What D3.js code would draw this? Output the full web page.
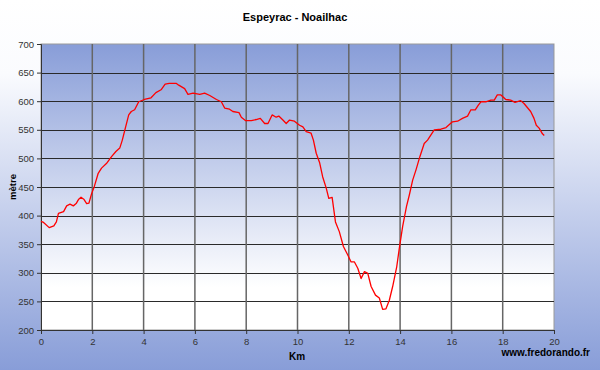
<!DOCTYPE html>
<html>
<head>
<meta charset="utf-8">
<script src="https://cdn.jsdelivr.net/npm/d3@7"></script>
<style>
  body { margin: 0; }
  svg { display: block; font-family: "Liberation Sans", Arial, sans-serif; }
</style>
</head>
<body>
<svg id="chart" width="600" height="370"></svg>
<script>
// distance (km) and altitude (m)
var km = [0, 0.1, 0.32, 0.5, 0.6, 0.68, 0.88, 1.0, 1.13, 1.26, 1.37, 1.46, 1.56, 1.68, 1.78, 1.87, 1.97,
  2.08, 2.23, 2.36, 2.55, 2.75, 2.92, 3.07, 3.17, 3.3, 3.42, 3.52, 3.65, 3.81, 4.03, 4.29, 4.48, 4.68,
  4.84, 5.0, 5.28, 5.37, 5.6, 5.73, 5.93, 6.19, 6.38, 6.58, 6.84, 7.03, 7.16, 7.35, 7.48, 7.72, 7.81,
  7.98, 8.2, 8.39, 8.55, 8.72, 8.85, 9.01, 9.17, 9.27, 9.43, 9.56, 9.69, 9.88, 10.08, 10.21, 10.34,
  10.53, 10.62, 10.73, 10.86, 10.98, 11.12, 11.22, 11.35, 11.48, 11.63, 11.79, 11.96, 12.09, 12.22,
  12.35, 12.48, 12.61, 12.74, 12.87, 13.04, 13.19, 13.32, 13.45, 13.58, 13.71, 13.87, 13.97, 14.1,
  14.25, 14.36, 14.49, 14.62, 14.77, 14.94, 15.07, 15.33, 15.59, 15.79, 16.04, 16.24, 16.43, 16.63,
  16.76, 16.93, 17.05, 17.15, 17.34, 17.54, 17.67, 17.79, 17.93, 18.12, 18.31, 18.48, 18.7, 18.83,
  18.96, 19.09, 19.22, 19.31, 19.42, 19.55, 19.62];
var alt = [390, 388, 379, 382, 389, 404, 407, 417, 420, 417, 421, 428, 432, 428, 421, 422, 438,
  451, 474, 483, 491, 503, 512, 518, 532, 555, 576, 582, 585, 599, 603, 606, 615, 620,
  630, 631, 631, 628, 622, 612, 614, 612, 614, 610, 603, 599, 588, 586, 582, 580, 572,
  566, 566, 568, 570, 561, 561, 576, 572, 574, 567, 561, 567, 565, 558, 555, 547,
  544, 532, 509, 493, 468, 448, 430, 432, 389, 372, 346, 331, 319, 319,
  308, 290, 302, 299, 276, 261, 256, 236, 237, 252, 276, 311, 343, 381,
  416, 436, 462, 480, 503, 526, 532, 550, 551, 554, 564, 565, 570, 574,
  585, 585, 593, 599, 599, 602, 602, 611, 611, 603, 602, 598, 601, 596,
  589, 582, 570, 558, 553, 543, 540];

var xTicks = [0, 2, 4, 6, 8, 10, 12, 14, 16, 18, 20];
var yTicks = [200, 250, 300, 350, 400, 450, 500, 550, 600, 650, 700];

var svg = d3.select("#chart");
var margin = {top: 44, right: 46, bottom: 40, left: 41};
var width = 600 - margin.left - margin.right;
var height = 370 - margin.top - margin.bottom;

var defs = svg.append("defs");
var bg = defs.append("linearGradient").attr("id", "bg")
  .attr("x1", 0).attr("y1", 0).attr("x2", 0).attr("y2", 1);
bg.append("stop").attr("offset", "0%").attr("stop-color", "#ffffff");
bg.append("stop").attr("offset", "20%").attr("stop-color", "#fafbfe");
bg.append("stop").attr("offset", "100%").attr("stop-color", "#889dd8");

var pg = defs.append("linearGradient").attr("id", "plotbg")
  .attr("x1", 0).attr("y1", 0).attr("x2", 0).attr("y2", 1);
pg.append("stop").attr("offset", "0%").attr("stop-color", "#889dd8");
pg.append("stop").attr("offset", "85%").attr("stop-color", "#ffffff");
pg.append("stop").attr("offset", "100%").attr("stop-color", "#ffffff");

svg.append("rect").attr("width", 600).attr("height", 370).attr("fill", "url(#bg)");

var g = svg.append("g").attr("transform", "translate(" + margin.left + "," + margin.top + ")");

var x = d3.scaleLinear().domain([0, 20]).range([0, width]);
var y = d3.scaleLinear().domain([200, 700]).range([height, 0]);

g.append("rect")
  .attr("width", width).attr("height", height)
  .attr("fill", "url(#plotbg)")
  .attr("stroke", "#999").attr("stroke-width", 1);

// grid
g.selectAll(".hgrid").data(yTicks.slice(1, -1)).enter().append("line")
  .attr("x1", 0).attr("x2", width)
  .attr("y1", function(d) { return Math.round(y(d)) + 0.5; })
  .attr("y2", function(d) { return Math.round(y(d)) + 0.5; })
  .attr("stroke", "#2a2a2a").attr("stroke-width", 1);

g.selectAll(".vgrid").data(xTicks.slice(1, -1)).enter().append("line")
  .attr("y1", 0).attr("y2", height)
  .attr("x1", function(d) { return x(d); })
  .attr("x2", function(d) { return x(d); })
  .attr("stroke", "#666").attr("stroke-width", 1.5);

// axes
var xAxis = g.append("g")
  .attr("transform", "translate(0," + height + ")")
  .call(d3.axisBottom(x).tickValues(xTicks).tickSize(4).tickPadding(4));
var yAxis = g.append("g")
  .call(d3.axisLeft(y).tickValues(yTicks).tickSize(4).tickPadding(3));

[xAxis, yAxis].forEach(function(a) {
  a.select(".domain").attr("stroke", "#333");
  a.selectAll(".tick line").attr("stroke", "#333");
  a.selectAll(".tick text").attr("fill", "#333")
    .style("font-size", "9.5px").style("font-family", "Liberation Sans, Arial, sans-serif");
});

// profile
var pts = km.map(function(k, i) { return [k, alt[i]]; });
var line = d3.line()
  .x(function(d) { return x(d[0]); })
  .y(function(d) { return y(d[1]); });

g.append("path")
  .datum(pts)
  .attr("fill", "none")
  .attr("stroke", "#ff0000")
  .attr("stroke-width", 1.3)
  .attr("stroke-linejoin", "round")
  .attr("d", line);

// texts
svg.append("text")
  .attr("x", 295).attr("y", 21)
  .attr("text-anchor", "middle")
  .style("font-size", "11px").style("font-weight", "bold")
  .text("Espeyrac - Noailhac");

svg.append("text")
  .attr("x", 297).attr("y", 360)
  .attr("text-anchor", "middle")
  .style("font-size", "10px").style("font-weight", "bold")
  .text("Km");

svg.append("text")
  .attr("transform", "translate(16,187) rotate(-90)")
  .attr("text-anchor", "middle")
  .style("font-size", "9.5px").style("font-weight", "bold")
  .text("mètre");

svg.append("text")
  .attr("x", 590).attr("y", 356)
  .attr("text-anchor", "end")
  .style("font-size", "10px").style("font-weight", "bold")
  .text("www.fredorando.fr");
</script>
</body>
</html>
